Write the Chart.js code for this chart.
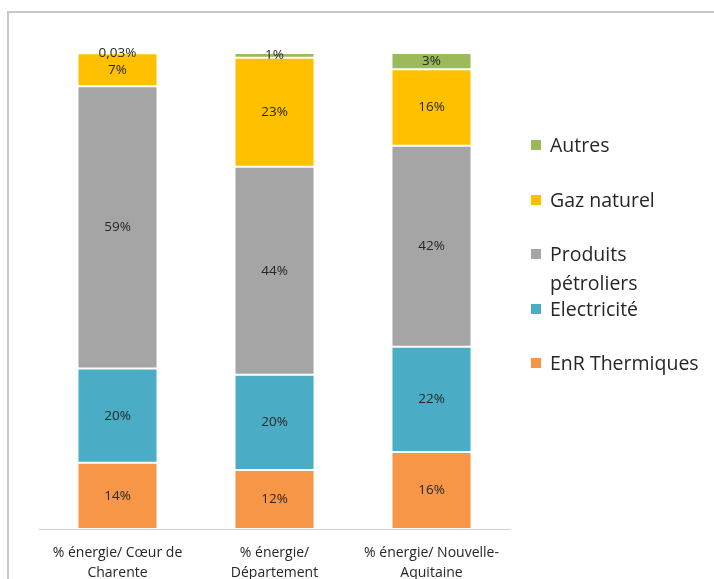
<!DOCTYPE html>
<html lang="fr">
<head>
  <meta charset="UTF-8">
  <title>Consommation d'énergie par source</title>
  <script src="https://cdn.jsdelivr.net/npm/chart.js"></script>
  <style>
    body { margin: 0; background: #fff; font-family: "Open Sans", sans-serif; }
    #wrap { position: relative; width: 714px; height: 579px; overflow: hidden; }
    #frame {
      position: absolute; left: 7px; top: 11px; width: 800px; height: 700px;
      border-left: 2px solid #c8c8c8; border-top: 2px solid #c8c8c8;
    }
    canvas { position: absolute; left: 0; top: 0; }
    #legend { position: absolute; left: 531px; top: 0; width: 183px; }
    .item { position: absolute; left: 0; font-size: 19.5px; color: #262626; line-height: 29px; white-space: nowrap; }
    .item span.sw { position: absolute; left: 0; top: 10px; width: 10px; height: 10px; }
    .item span.tx { display: block; padding-left: 19px; }
  </style>
</head>
<body>
<div id="wrap">
  <div id="frame"></div>
  <canvas id="chart" width="714" height="579"></canvas>
  <div id="legend"></div>
</div>
<script>
  const categories = [
    ['% énergie/ Cœur de', 'Charente'],
    ['% énergie/', 'Département'],
    ['% énergie/ Nouvelle-', 'Aquitaine']
  ];
  const seriesNames = ['EnR Thermiques', 'Electricité', 'Produits pétroliers', 'Gaz naturel', 'Autres'];
  const colors = ['#F79646', '#4BACC6', '#A5A5A5', '#FFC000', '#9BBB59'];

  const enrThermiques = [13.9, 12.4, 16.2];
  const electricite = [19.8, 20.0, 22.1];
  const produitsPetroliers = [59.3, 43.7, 42.2];
  const gazNaturel = [6.97, 22.9, 16.1];
  const autres = [0.03, 1.0, 3.4];

  const seriesData = [enrThermiques, electricite, produitsPetroliers, gazNaturel, autres];

  function fmt(v) {
    if (v < 1) return v.toFixed(2).replace('.', ',') + '%';
    return Math.round(v) + '%';
  }

  const labelPlugin = {
    id: 'segLabels',
    afterDatasetsDraw(chart) {
      const ctx = chart.ctx;
      ctx.save();
      ctx.font = '13.5px "Open Sans", sans-serif';
      ctx.fillStyle = '#262626';
      ctx.textAlign = 'center';
      ctx.textBaseline = 'middle';
      chart.data.datasets.forEach((ds, i) => {
        chart.getDatasetMeta(i).data.forEach((el, j) => {
          ctx.fillText(fmt(ds.data[j]), el.x, (el.y + el.base) / 2);
        });
      });
      ctx.restore();
    }
  };

  new Chart(document.getElementById('chart'), {
    type: 'bar',
    data: {
      labels: categories,
      datasets: seriesNames.map((name, i) => ({
        label: name,
        data: seriesData[i],
        backgroundColor: colors[i],
        borderColor: '#ffffff',
        borderWidth: 1,
        borderSkipped: false,
        categoryPercentage: 1,
        barPercentage: 0.51
      }))
    },
    options: {
      responsive: false,
      animation: false,
      layout: { padding: { left: 39, right: 204, top: 53, bottom: 0 } },
      plugins: { legend: { display: false }, tooltip: { enabled: false } },
      scales: {
        y: { stacked: true, min: 0, max: 100, display: false },
        x: {
          stacked: true,
          grid: { display: false },
          border: { display: true, color: '#d0d0d0', width: 1 },
          ticks: {
            color: '#262626',
            padding: 6,
            maxRotation: 0,
            autoSkip: false,
            font: { family: '"Open Sans", sans-serif', size: 14, lineHeight: 1.45 }
          },
          afterFit(scale) { scale.height = 50; }
        }
      }
    },
    plugins: [labelPlugin]
  });

  // legend, reversed like the original
  const legendTops = [130, 185, 239, 294, 348];
  const legendTexts = ['Autres', 'Gaz naturel', 'Produits<br>pétroliers', 'Electricité', 'EnR Thermiques'];
  const legendColors = [colors[4], colors[3], colors[2], colors[1], colors[0]];
  const lg = document.getElementById('legend');
  legendTexts.forEach((t, i) => {
    const d = document.createElement('div');
    d.className = 'item';
    d.style.top = legendTops[i] + 'px';
    d.innerHTML = '<span class="sw" style="background:' + legendColors[i] + '"></span><span class="tx">' + t + '</span>';
    lg.appendChild(d);
  });
</script>
</body>
</html>
